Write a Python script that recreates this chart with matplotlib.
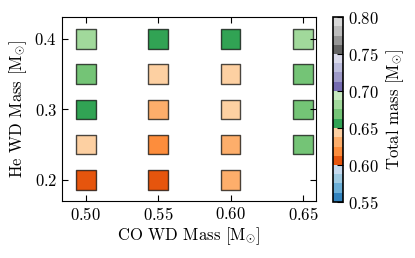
import matplotlib
matplotlib.use("Agg")
import matplotlib.pyplot as plt
import numpy as np

plt.rcParams["font.family"] = "serif"
plt.rcParams["font.serif"] = ["cmr10"]
plt.rcParams["mathtext.fontset"] = "cm"
plt.rcParams["axes.formatter.use_mathtext"] = True
plt.rcParams["font.size"] = 12

# grid of models: CO WD mass, He WD mass, resulting total mass
co_mass = [0.50, 0.50, 0.50, 0.50, 0.50,
           0.55, 0.55, 0.55, 0.55, 0.55,
           0.60, 0.60, 0.60, 0.60, 0.60,
           0.65, 0.65, 0.65, 0.65]
he_mass = [0.20, 0.25, 0.30, 0.35, 0.40,
           0.20, 0.25, 0.30, 0.35, 0.40,
           0.20, 0.25, 0.30, 0.35, 0.40,
           0.25, 0.30, 0.35, 0.40]
total_mass = [0.605, 0.640, 0.655, 0.670, 0.680,
              0.605, 0.620, 0.630, 0.645, 0.655,
              0.630, 0.630, 0.645, 0.645, 0.655,
              0.670, 0.670, 0.670, 0.680]

fig = plt.figure(figsize=(4.15, 2.58), dpi=100)
ax = fig.add_axes([62 / 415, 1 - 201 / 258, 254 / 415, 184 / 258])
cax = fig.add_axes([333 / 415, 1 - 202 / 258, 10 / 415, 185 / 258])

sc = ax.scatter(co_mass, he_mass, c=total_mass, cmap="tab20c", vmin=0.55, vmax=0.80,
                marker="s", s=200, edgecolors=(0, 0, 0, 0.7), linewidths=1.0)

ax.set_xlim(0.4835, 0.659)
ax.set_ylim(0.17, 0.431)
ax.set_xticks([0.50, 0.55, 0.60, 0.65])
ax.set_yticks([0.2, 0.3, 0.4])
ax.tick_params(direction="in", top=True, right=True, length=4)
ax.set_xlabel(r"CO WD Mass [$\mathrm{M}_{\odot}$]", labelpad=2)
ax.set_ylabel(r"He WD Mass [$\mathrm{M}_{\odot}$]", labelpad=4)

cb = fig.colorbar(sc, cax=cax)
cb.set_ticks([0.55, 0.60, 0.65, 0.70, 0.75, 0.80])
cb.set_label(r"Total mass [$\mathrm{M}_{\odot}$]")
cb.ax.tick_params(direction="in", length=4)
cb.outline.set_linewidth(1.2)

fig.savefig("out.png", dpi=100)
